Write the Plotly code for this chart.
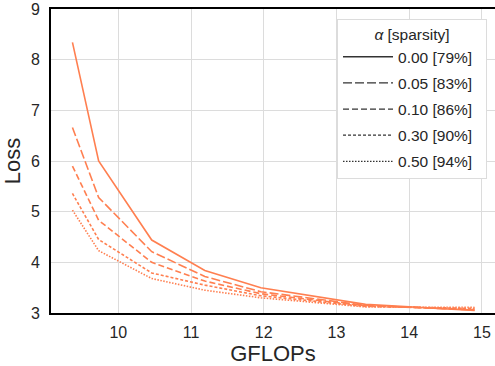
import plotly.graph_objects as go

gflops = [9.37, 9.73, 10.46, 11.19, 11.96, 13.4, 14.9]
alpha_labels = ["0.00 [79%]", "0.05 [83%]", "0.10 [86%]", "0.30 [90%]", "0.50 [94%]"]
loss_a000 = [8.34, 6.00, 4.44, 3.84, 3.50, 3.17, 3.05]
loss_a005 = [6.66, 5.28, 4.21, 3.72, 3.42, 3.15, 3.06]
loss_a010 = [5.90, 4.83, 4.00, 3.63, 3.38, 3.14, 3.07]
loss_a030 = [5.36, 4.45, 3.79, 3.55, 3.34, 3.13, 3.09]
loss_a050 = [5.03, 4.23, 3.68, 3.45, 3.30, 3.12, 3.11]
x_ticks = [10, 11, 12, 13, 14, 15]
y_ticks = [3, 4, 5, 6, 7, 8, 9]

series = [loss_a000, loss_a005, loss_a010, loss_a030, loss_a050]
dashes = ["solid", "9px,3px", "6px,3px", "3px,2px", "1.5px,1.5px"]
color = "#ff7f50"
text_col = "#262626"
font = "Liberation Sans, Arial, sans-serif"

fig = go.Figure()
for vals, d in zip(series, dashes):
    fig.add_trace(go.Scatter(x=gflops, y=vals, mode="lines",
                             line=dict(color=color, width=1.6, dash=d),
                             showlegend=False, hoverinfo="skip"))
for i, (lab, d) in enumerate(zip(alpha_labels, dashes)):
    fig.add_trace(go.Scatter(x=[None], y=[None], mode="lines", name=lab + "\u00a0\u00a0",
                             legendgroup=f"g{i}",
                             line=dict(color="#333333", width=1.3, dash=d)))

fig.update_layout(
    width=495, height=366,
    margin=dict(l=51, r=0, t=9, b=53),
    paper_bgcolor="white", plot_bgcolor="white",
    font=dict(family=font, size=16, color=text_col),
    legend=dict(
        title=dict(text="<i>α</i> [sparsity]", side="top center", font=dict(size=15.5)),
        x=0.982, xanchor="right", y=0.967, yanchor="top",
        bgcolor="white", bordercolor="#dcdcdc", borderwidth=1,
        font=dict(size=15.5), itemwidth=50,
        traceorder="grouped", tracegroupgap=3,
    ),
    xaxis=dict(
        range=[9.075, 15.18], tickvals=x_ticks, ticktext=[str(t) for t in x_ticks],
        showgrid=True, gridcolor="#dcdcdc", gridwidth=1,
        showline=True, linecolor="black", linewidth=2, mirror=True,
        ticks="", zeroline=False, automargin=False, ticklabelstandoff=4,
        ticklabeloverflow="allow",
        title=dict(text="GFLOPs", font=dict(size=22), standoff=1),
    ),
    yaxis=dict(
        range=[3, 9], tickvals=y_ticks, ticktext=[str(t) for t in y_ticks],
        showgrid=True, gridcolor="#dcdcdc", gridwidth=1,
        showline=True, linecolor="black", linewidth=2, mirror=False,
        ticks="", zeroline=False, automargin=False, ticklabelstandoff=6,
        ticklabeloverflow="allow",
        title=dict(text="Loss", font=dict(size=22), standoff=6),
    ),
)

fig.write_html("out.html", config={"displayModeBar": False},
               post_script="document.body.style.margin='0';")
